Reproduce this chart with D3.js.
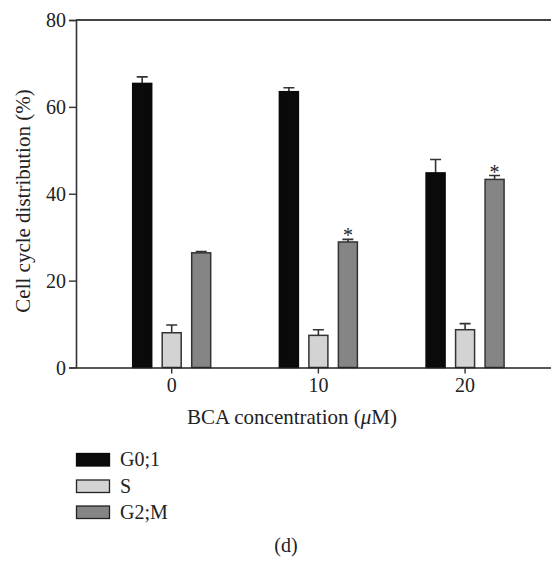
<!DOCTYPE html>
<html>
<head>
<meta charset="utf-8">
<script src="https://cdn.jsdelivr.net/npm/d3@7"></script>
<style>
  html, body { margin: 0; padding: 0; background: #fff; }
  svg { display: block; }
  text { font-family: "Liberation Serif", "Times New Roman", serif; fill: #222; }
</style>
</head>
<body>
<div id="chart"></div>
<script>
// ---- data ----
const categories = ["0", "10", "20"];
const seriesNames = ["G0;1", "S", "G2;M"];
const g01Values = [65.4, 63.5, 44.8];
const g01Errors = [1.5, 0.9, 3.1];
const sValues = [8.0, 7.4, 8.7];
const sErrors = [1.8, 1.3, 1.4];
const g2mValues = [26.4, 28.9, 43.3];
const g2mErrors = [0.3, 0.6, 0.9];
const g2mSignificant = [false, true, true];
const yTicks = [0, 20, 40, 60, 80];
const seriesColors = ["#0a0a0a", "#d3d3d3", "#858585"];

const seriesValues = [g01Values, sValues, g2mValues];
const seriesErrors = [g01Errors, sErrors, g2mErrors];
const seriesStars = [[false, false, false], [false, false, false], g2mSignificant];

const W = 551, H = 563;
const svg = d3.select("#chart").append("svg").attr("width", W).attr("height", H);

const mLeft = 76, mRight = 551, mTop = 20, mBottom = 367.5;

const y = d3.scaleLinear().domain([0, 80]).range([mBottom, mTop]);
const x0 = d3.scaleBand().domain(categories).range([mLeft, mRight])
  .paddingInner(0).paddingOuter(0.119).align(0.64);
const x1 = d3.scaleBand().domain(seriesNames).range([-44.25, 44.25])
  .paddingInner(0.356).paddingOuter(0.178);

// data rows
const rows = [];
seriesNames.forEach((s, si) => {
  categories.forEach((c, ci) => {
    rows.push({ s, si, c, v: seriesValues[si][ci], e: seriesErrors[si][ci], star: seriesStars[si][ci] });
  });
});

const g = svg.append("g");

// top frame line
g.append("line").attr("x1", mLeft).attr("x2", mRight).attr("y1", y(80)).attr("y2", y(80))
  .attr("stroke", "#444").attr("stroke-width", 2);

// error bars
const cx = d => x0(d.c) + x0.bandwidth() / 2 + x1(d.s) + x1.bandwidth() / 2;
const capW = 11;
g.selectAll(".err").data(rows).enter().append("path")
  .attr("d", d => `M${cx(d)},${y(d.v)}V${y(d.v + d.e)}M${cx(d) - capW / 2},${y(d.v + d.e)}H${cx(d) + capW / 2}`)
  .attr("stroke", "#333").attr("stroke-width", 1.6).attr("fill", "none");

// bars
g.selectAll(".bar").data(rows).enter().append("rect")
  .attr("x", d => x0(d.c) + x0.bandwidth() / 2 + x1(d.s))
  .attr("width", x1.bandwidth())
  .attr("y", d => y(d.v))
  .attr("height", d => y(0) - y(d.v))
  .attr("fill", d => seriesColors[d.si])
  .attr("stroke", d => d.si === 0 ? "#0a0a0a" : "#333")
  .attr("stroke-width", 1.5);

// stars
g.selectAll(".star").data(rows.filter(d => d.star)).enter().append("text")
  .attr("x", cx).attr("y", d => y(d.v + d.e) + 3)
  .attr("text-anchor", "middle").attr("font-size", 20).attr("fill", "#333")
  .text("*");

// y axis
const yAxis = d3.axisLeft(y).tickValues(yTicks).tickSize(7).tickPadding(3);
const ya = svg.append("g").attr("transform", `translate(${mLeft},0)`).call(yAxis);
ya.select(".domain").attr("stroke", "#333").attr("stroke-width", 1.6);
ya.selectAll(".tick line").attr("stroke", "#333").attr("stroke-width", 1.4);
ya.selectAll(".tick text").attr("font-size", 20).attr("font-family", "Liberation Serif").attr("fill", "#222").attr("dy", "0.34em");

// x axis
const xAxis = d3.axisBottom(x0).tickSize(6).tickPadding(3).tickSizeOuter(0);
const xa = svg.append("g").attr("transform", `translate(0,${mBottom})`).call(xAxis);
xa.select(".domain").attr("stroke", "#222").attr("stroke-width", 1.6);
xa.selectAll(".tick line").attr("stroke", "#333").attr("stroke-width", 1.4);
xa.selectAll(".tick text").attr("font-size", 20).attr("font-family", "Liberation Serif").attr("fill", "#222").attr("dy", "0.75em");

// axis titles
svg.append("text").attr("x", 292).attr("y", 424).attr("text-anchor", "middle").attr("font-size", 21)
  .html('BCA concentration (<tspan font-style="italic">μ</tspan>M)');
svg.append("text").attr("transform", "translate(30,201) rotate(-90)").attr("text-anchor", "middle").attr("font-size", 21)
  .text("Cell cycle distribution (%)");

// legend
const legend = svg.append("g");
const legY = [453.5, 480, 506];
seriesNames.forEach((s, i) => {
  legend.append("rect").attr("x", 76.5).attr("y", legY[i]).attr("width", 33).attr("height", 12.5)
    .attr("fill", seriesColors[i]).attr("stroke", i === 0 ? "#0a0a0a" : "#222").attr("stroke-width", 1.3);
  legend.append("text").attr("x", 120).attr("y", legY[i] + 12.5).attr("font-size", 20).text(s);
});

svg.append("text").attr("x", 286).attr("y", 552).attr("text-anchor", "middle").attr("font-size", 20).text("(d)");
</script>
</body>
</html>
